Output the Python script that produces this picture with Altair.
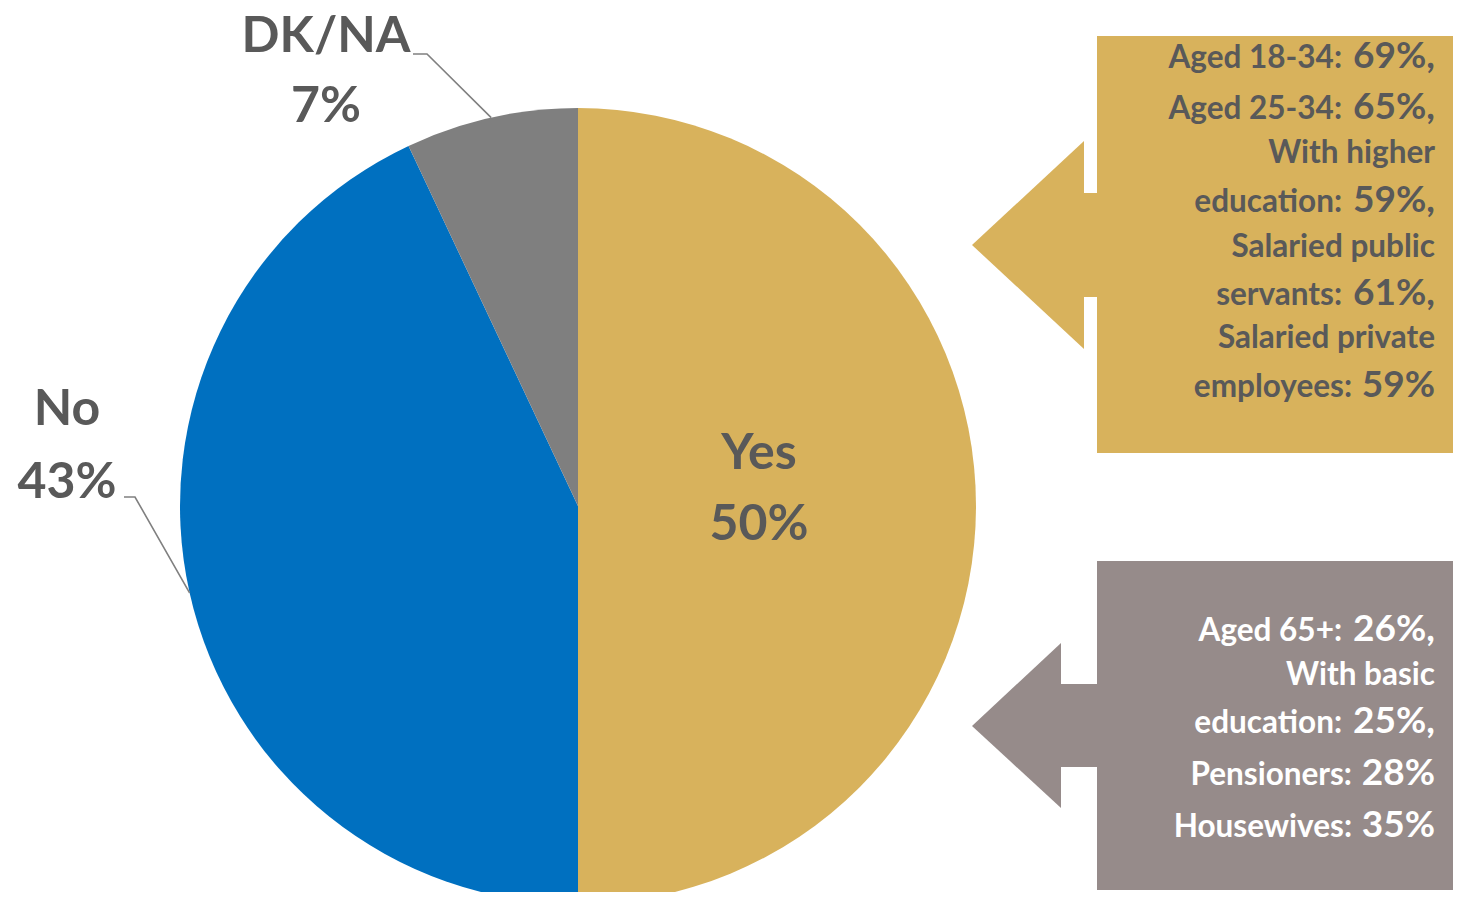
import math
import altair as alt
import pandas as pd

# ---------------- data ----------------
categories = ["Yes", "No", "DK/NA"]
shares = [50, 43, 7]
slice_colors = ["#D8B25C", "#0070C0", "#7F7F7F"]

yes_lines = ["Aged 18-34:", "Aged 25-34:", "With higher", "education:",
             "Salaried public", "servants:", "Salaried private", "employees:"]
yes_numbers = ["69%,", "65%,", "", "59%,", "", "61%,", "", "59%"]

no_lines = ["Aged 65+:", "With basic", "education:", "Pensioners:", "Housewives:"]
no_numbers = ["26%,", "", "25%,", "28%", "35%"]

# ---------------- layout ----------------
W, H = 1445, 884
OX, OY = 8, 8
xs = alt.Scale(domain=[OX, OX + W], range=[0, W], nice=False, zero=False)
ys = alt.Scale(domain=[OY, OY + H], range=[0, H], nice=False, zero=False)

CX, CY, R = 578, 506, 398
FONT = "Lato"
TXT = "#595959"
GOLD = "#D8B25C"
GREY_BOX = "#968B8A"
LEADER = "#808080"

# pie
pie_df = pd.DataFrame({"cat": categories, "value": shares,
                       "color": slice_colors, "order": list(range(len(shares)))})
pie = alt.Chart(pie_df).mark_arc(outerRadius=R).encode(
    theta=alt.Theta("value:Q", stack=True),
    color=alt.Color("color:N", scale=None),
    order=alt.Order("order:Q"),
    x=alt.value(CX - OX),
    y=alt.value(CY - OY),
)

# leader lines from slice mid-angle edge points
total = sum(shares)
edge = {}
cum = 0
for c, s in zip(categories, shares):
    mid = (cum + s / 2) / total * 2 * math.pi
    edge[c] = (CX + R * math.sin(mid), CY - R * math.cos(mid))
    cum += s

elbows = {"DK/NA": [(413, 54), (427, 54)], "No": [(124, 497), (135, 497)]}
rows = []
for c, pts in elbows.items():
    allpts = pts + [edge[c]]
    for i, (px, py) in enumerate(allpts):
        rows.append({"id": c, "i": i, "x": px, "y": py})
lead_df = pd.DataFrame(rows)
leaders = alt.Chart(lead_df).mark_line(color=LEADER, strokeWidth=1.6).encode(
    x=alt.X("x:Q", scale=xs, axis=None),
    y=alt.Y("y:Q", scale=ys, axis=None),
    detail="id:N",
    order="i:Q",
)

# pie labels
label_pos = {"Yes": (759, 469, 540), "No": (67, 425, 498), "DK/NA": (326, 52, 122)}
lab_rows = []
for c, s in zip(categories, shares):
    x, y1, y2 = label_pos[c]
    lab_rows.append({"x": x, "y": y1, "t": c})
    lab_rows.append({"x": x, "y": y2, "t": f"{s}%"})
lab_df = pd.DataFrame(lab_rows)
pie_labels = alt.Chart(lab_df).mark_text(
    font=FONT, fontWeight="bold", fontSize=50, color=TXT,
    align="center", baseline="alphabetic",
).encode(
    x=alt.X("x:Q", scale=xs, axis=None),
    y=alt.Y("y:Q", scale=ys, axis=None),
    text="t:N",
)

# callout arrows (box + shaft + head)
boxes = [
    dict(bx1=1097, bx2=1455, by1=36, by2=453, sx=1083, sy1=193, sy2=297,
         hx=1084, hy1=141, hy2=349, tx=972, ty=245, fill=GOLD),
    dict(bx1=1097, bx2=1455, by1=561, by2=890, sx=1060, sy1=684, sy2=767,
         hx=1061, hy1=643, hy2=808, tx=972, ty=726, fill=GREY_BOX),
]
rect_rows, tri_rows = [], []
for k, b in enumerate(boxes):
    rect_rows.append({"x": b["bx1"], "x2": b["bx2"], "y": b["by1"], "y2": b["by2"], "fill": b["fill"]})
    rect_rows.append({"x": b["sx"], "x2": b["bx1"] + 1, "y": b["sy1"], "y2": b["sy2"], "fill": b["fill"]})
    tri_rows.append({"k": k, "x": b["tx"], "y": b["ty"], "y2": b["ty"], "fill": b["fill"]})
    tri_rows.append({"k": k, "x": b["hx"], "y": b["hy1"], "y2": b["hy2"], "fill": b["fill"]})
rect_df = pd.DataFrame(rect_rows)
tri_df = pd.DataFrame(tri_rows)

rects = alt.Chart(rect_df).mark_rect().encode(
    x=alt.X("x:Q", scale=xs, axis=None), x2="x2:Q",
    y=alt.Y("y:Q", scale=ys, axis=None), y2="y2:Q",
    color=alt.Color("fill:N", scale=None),
)
heads = alt.Chart(tri_df).mark_area(orient="vertical").encode(
    x=alt.X("x:Q", scale=xs, axis=None),
    y=alt.Y("y:Q", scale=ys, axis=None), y2="y2:Q",
    color=alt.Color("fill:N", scale=None),
    detail="k:N",
)

# callout text
RIGHT = 1435
NUM_SIZE, LAB_SIZE, GAP = 37, 31.5, 9
cw = {"%": 0.84, ",": 0.27}


def num_width(t):
    return sum(cw.get(ch, 0.58) for ch in t) * NUM_SIZE


gold_base = [68, 119, 163, 212, 257, 305, 348, 397]
grey_base = [641, 685, 733, 785, 837]

lab_rows, num_rows = [], []
for lines, nums, bases, col in [(yes_lines, yes_numbers, gold_base, TXT),
                                (no_lines, no_numbers, grey_base, "#FFFFFF")]:
    for l, n, yb in zip(lines, nums, bases):
        if n:
            num_rows.append({"x": RIGHT, "y": yb, "t": n, "c": col})
            lab_rows.append({"x": RIGHT - num_width(n) - GAP, "y": yb, "t": l, "c": col})
        else:
            lab_rows.append({"x": RIGHT, "y": yb, "t": l, "c": col})

box_labels = alt.Chart(pd.DataFrame(lab_rows)).mark_text(
    font=FONT, fontWeight="bold", fontSize=LAB_SIZE, align="right", baseline="alphabetic",
).encode(
    x=alt.X("x:Q", scale=xs, axis=None),
    y=alt.Y("y:Q", scale=ys, axis=None),
    text="t:N",
    color=alt.Color("c:N", scale=None),
)
box_nums = alt.Chart(pd.DataFrame(num_rows)).mark_text(
    font=FONT, fontWeight="bold", fontSize=NUM_SIZE, align="right", baseline="alphabetic",
).encode(
    x=alt.X("x:Q", scale=xs, axis=None),
    y=alt.Y("y:Q", scale=ys, axis=None),
    text="t:N",
    color=alt.Color("c:N", scale=None),
)

chart = alt.layer(rects, heads, pie, leaders, pie_labels, box_labels, box_nums).properties(
    width=W, height=H, padding=0, autosize=alt.AutoSizeParams(type="none"),
    background="white",
).configure_view(stroke=None)

chart.save("out.html", embed_options={"renderer": "svg", "actions": False})
